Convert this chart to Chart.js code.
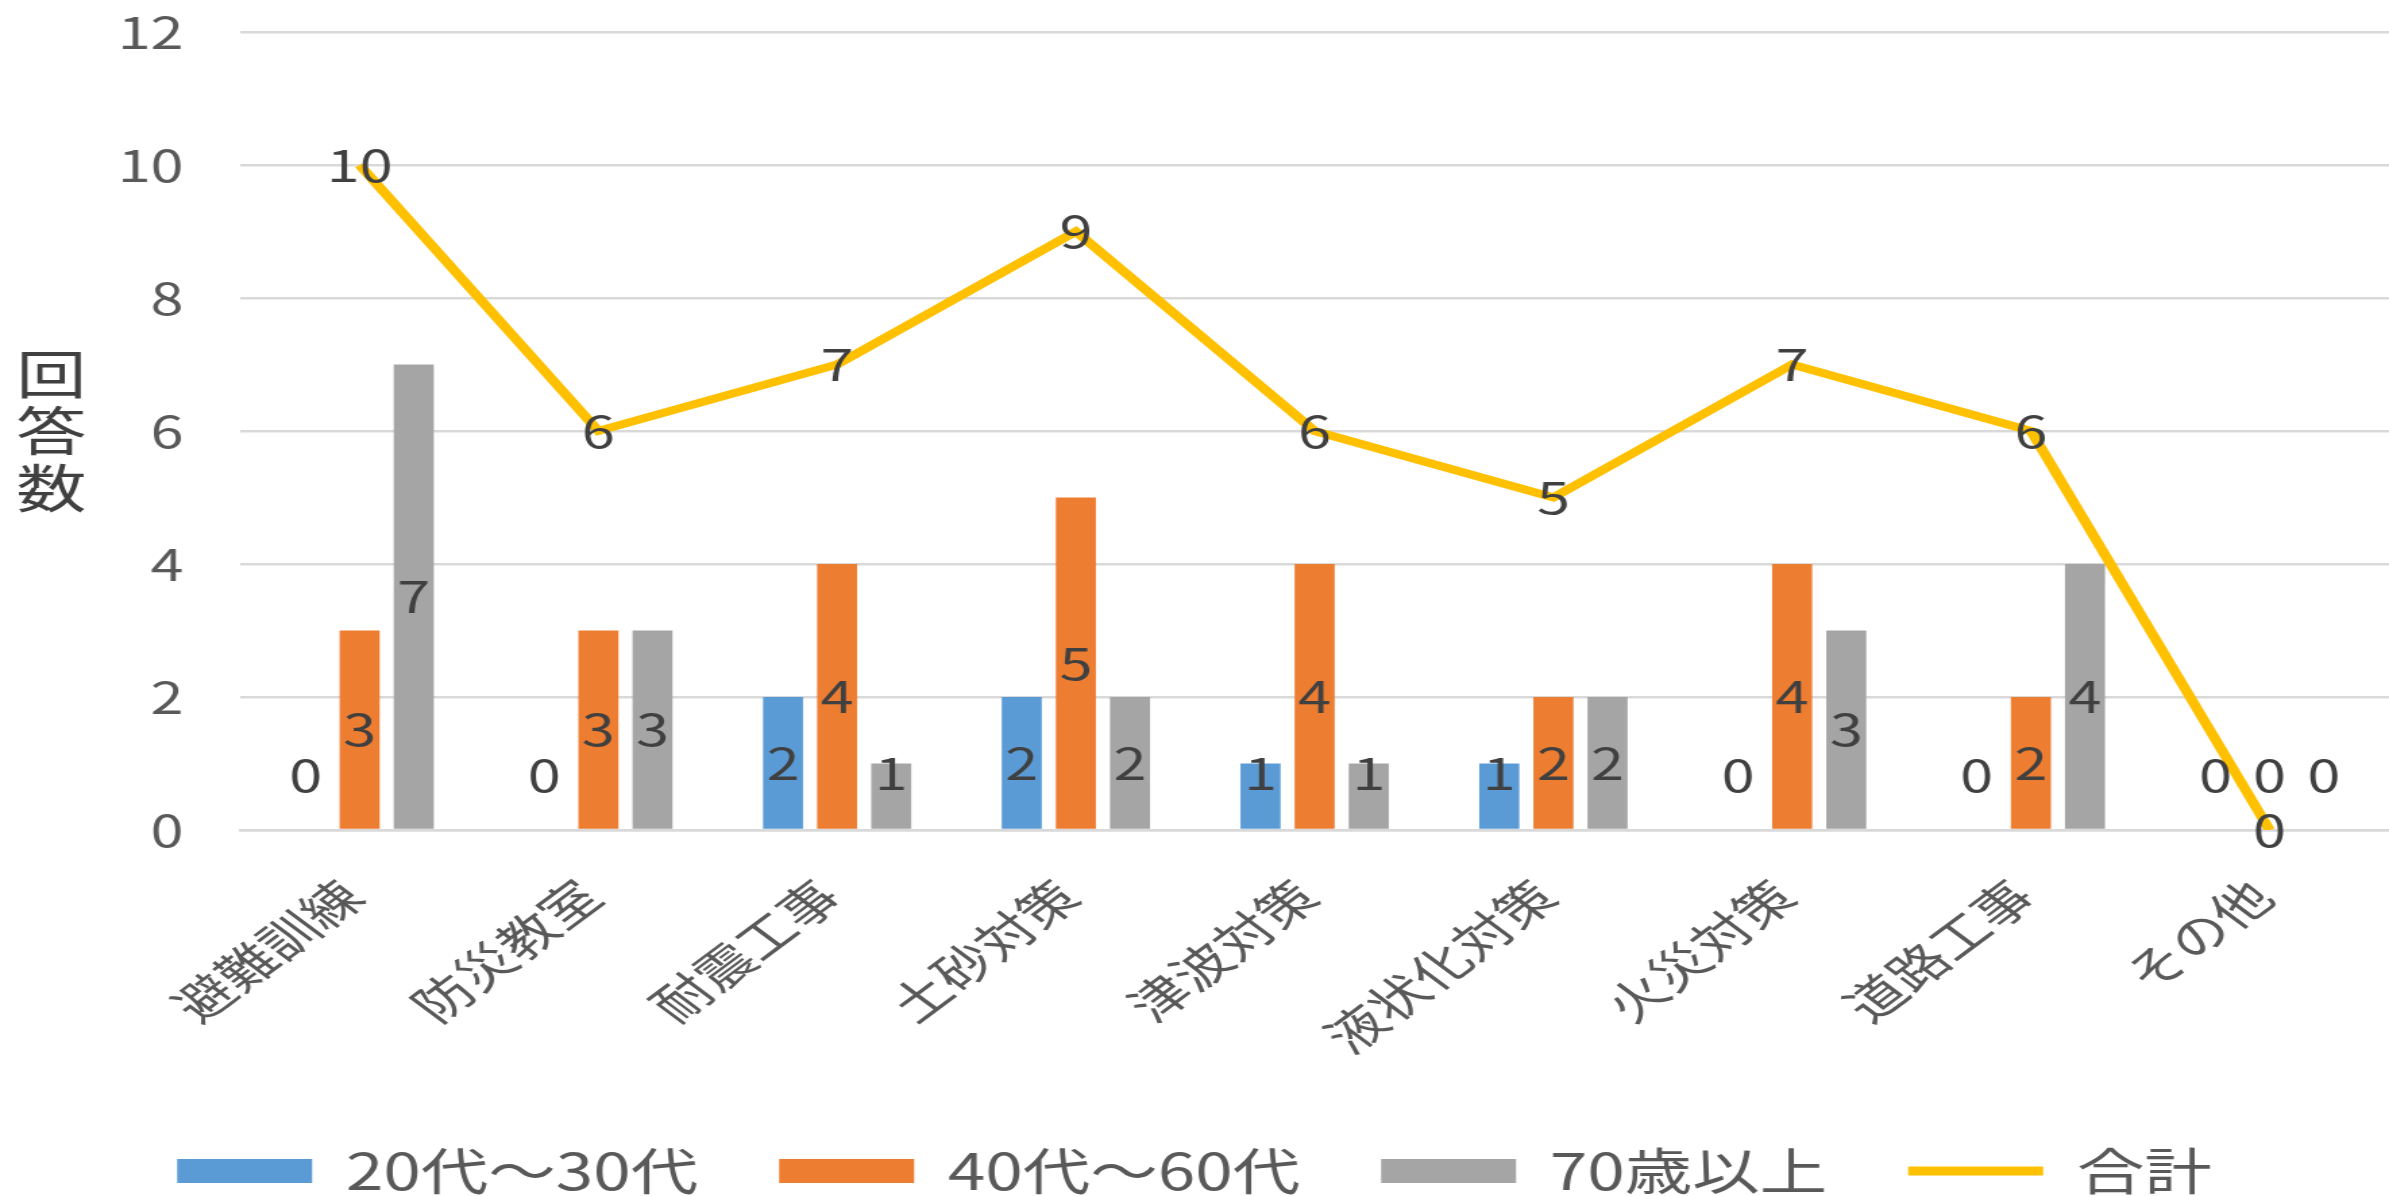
<!DOCTYPE html>
<html lang="ja">
<head>
<meta charset="utf-8">
<title>回答数</title>
<script src="https://cdn.jsdelivr.net/npm/chart.js@4.4.1/dist/chart.umd.min.js"></script>
<style>
    html, body { margin: 0; padding: 0; background: #ffffff; overflow: hidden; }
    #chartKaitou { display: block; }
</style>
</head>
<body>
<!-- the reference is a stretched Excel chart, so the canvas is drawn narrower and widened by css -->
<canvas id="chartKaitou" width="1770" height="1196" style="width:2389px;height:1196px"></canvas>
<script>
// ---------- DATA ----------
const categories = ["避難訓練", "防災教室", "耐震工事", "土砂対策", "津波対策", "液状化対策", "火災対策", "道路工事", "その他"];
const seriesNames = ["20代～30代", "40代～60代", "70歳以上", "合計"];
const age20to30 = [0, 0, 2, 2, 1, 1, 0, 0, 0];
const age40to60 = [3, 3, 4, 5, 4, 2, 4, 2, 0];
const age70plus = [7, 3, 1, 2, 1, 2, 3, 4, 0];
const totals = [10, 6, 7, 9, 6, 5, 7, 6, 0];
const yMin = 0;
const yMax = 12;
const yStep = 2;
const yTitle = "回答数";

const FONT = '"Noto Sans CJK JP", "Noto Sans", sans-serif';

// DATA LABELS (centre of bar, point for the line)
const dataLabels = {
    id: "dataLabels",
    afterDatasetsDraw(chart) {
        const ctx = chart.ctx;
        ctx.save();
        ctx.font = "44px " + FONT;
        ctx.fillStyle = "#404040";
        ctx.textAlign = "center";
        ctx.textBaseline = "middle";
        chart.data.datasets.forEach(function (ds, i) {
            const meta = chart.getDatasetMeta(i);
            meta.data.forEach(function (el, j) {
                let y = el.y;
                if (meta.type === "bar") {
                    // short bars: excel keeps the label just above the base
                    y = Math.min((el.y + el.base) / 2, el.base - 55);
                }
                ctx.fillText(String(ds.data[j]), el.x, y);
            });
        });
        ctx.restore();
    }
};

// Y TITLE, one character per line
const stackedTitle = {
    id: "stackedTitle",
    afterDraw(chart) {
        const ctx = chart.ctx;
        const mid = (chart.chartArea.top + chart.chartArea.bottom) / 2;
        const chars = yTitle.split("");
        ctx.save();
        ctx.font = "52px " + FONT;
        ctx.fillStyle = "#404040";
        ctx.textAlign = "center";
        ctx.textBaseline = "middle";
        chars.forEach(function (c, k) {
            ctx.fillText(c, 38, mid + (k - (chars.length - 1) / 2) * 57);
        });
        ctx.restore();
    }
};

const ctx = document.getElementById("chartKaitou");
new Chart(ctx, {
    data: {
        labels: categories,
        datasets: [{
            type: "bar",
            label: seriesNames[0],
            data: age20to30,
            backgroundColor: "#5b9bd5",
            order: 1
        },
        {
            type: "bar",
            label: seriesNames[1],
            data: age40to60,
            backgroundColor: "#ed7d31",
            order: 1
        },
        {
            type: "bar",
            label: seriesNames[2],
            data: age70plus,
            backgroundColor: "#a5a5a5",
            order: 1
        },
        {
            type: "line",
            label: seriesNames[3],
            data: totals,
            borderColor: "#ffc000",
            backgroundColor: "#ffc000",
            borderWidth: 8,
            pointRadius: 0,
            tension: 0,
            order: 0
        }]
    },
    options: {
        responsive: false,
        animation: false,
        devicePixelRatio: 1,
        datasets: {
            bar: { categoryPercentage: 0.68, barPercentage: 0.74 }
        },
        layout: {
            padding: { left: 0, right: 0, top: 32, bottom: -10 }
        },
        scales: {
            x: {
                grid: { display: false },
                border: { color: "#d9d9d9", width: 2.5 },
                ticks: {
                    color: "#595959",
                    font: { family: FONT, size: 44 },
                    maxRotation: 45,
                    minRotation: 45,
                    padding: 32,
                    labelOffset: -6
                },
                afterFit: function (scale) { scale.height = 256; }
            },
            y: {
                min: yMin,
                max: yMax,
                border: { display: false },
                grid: { color: "#d9d9d9", lineWidth: 2.5, drawTicks: false },
                ticks: {
                    stepSize: yStep,
                    color: "#595959",
                    font: { family: FONT, size: 44 },
                    padding: 42
                },
                afterFit: function (scale) {
                    scale.width = 178;
                    // keep the tick padding from eating the top of the plot
                    scale.paddingTop = 0;
                    scale.paddingBottom = 0;
                }
            }
        },
        plugins: {
            tooltip: { enabled: false },
            legend: {
                position: "bottom",
                labels: {
                    color: "#595959",
                    font: { family: FONT, size: 50 },
                    padding: 60,
                    boxHeight: 24,
                    usePointStyle: true,
                    pointStyleWidth: 100,
                    sort: function (a, b) { return a.datasetIndex - b.datasetIndex; },
                    generateLabels: function (chart) {
                        const items = Chart.defaults.plugins.legend.labels.generateLabels(chart);
                        items.forEach(function (it) {
                            if (chart.data.datasets[it.datasetIndex].type === "line") {
                                it.pointStyle = "line";
                                it.lineWidth = 9;
                                it.strokeStyle = "#ffc000";
                            } else {
                                it.pointStyle = "rect";
                                it.lineWidth = 0;
                            }
                        });
                        return items;
                    }
                }
            }
        }
    },
    plugins: [dataLabels, stackedTitle]
});
</script>
</body>
</html>
